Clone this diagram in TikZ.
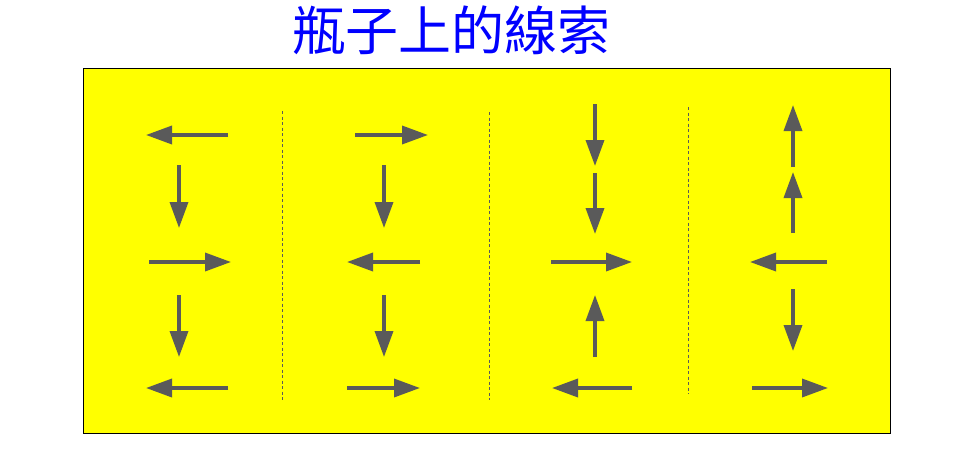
\documentclass[tikz,border=0pt]{standalone}
\usepackage{fontspec}
\newfontfamily\cjk{Noto Sans CJK TC}
\usetikzlibrary{arrows.meta}
\definecolor{arrowgray}{HTML}{5A5A5A}
\definecolor{titleblue}{HTML}{0000FF}
\definecolor{panelyellow}{HTML}{FFFF00}
\tikzset{
  cluearrow/.style={draw=arrowgray, line width=3.5pt, -{Triangle[length=26pt,width=18pt]}},
  divider/.style={draw=arrowgray, line width=1pt, dash pattern=on 3pt off 2.5pt},
  panel/.style={draw=black, line width=1pt, fill=panelyellow},
}
\newcommand{\clue}[5]{%
  \coordinate (#1-s) at (#2,#3);
  \coordinate (#1-e) at (#4,#5);
  \draw[cluearrow] (#1-s) -- (#1-e);
}
\begin{document}
\begin{tikzpicture}[x=1pt,y=-1pt]
\useasboundingbox (0,0) rectangle (958,453);
\node[panel, minimum width=807pt, minimum height=365pt, inner sep=0pt, anchor=north west] (box) at (83,67.5) {};
\node[text=titleblue, font=\cjk\fontsize{53}{60}\selectfont, inner sep=0pt] (title) at (451,30) {瓶子上的線索};
% dividers
\coordinate (d1t) at (282,111); \coordinate (d1b) at (282,400);
\coordinate (d2t) at (489,112); \coordinate (d2b) at (489,400);
\coordinate (d3t) at (688,107); \coordinate (d3b) at (688,394);
\draw[divider] (d1t) -- (d1b);
\draw[divider] (d2t) -- (d2b);
\draw[divider] (d3t) -- (d3b);
% column 1
\clue{a1}{228}{135}{146}{135}
\clue{a2}{179}{165}{179}{228}
\clue{a3}{149}{262}{231}{262}
\clue{a4}{179}{295}{179}{357}
\clue{a5}{228}{388}{146}{388}
% column 2
\clue{b1}{355}{135}{428}{135}
\clue{b2}{384}{165}{384}{228}
\clue{b3}{420}{262}{347}{262}
\clue{b4}{384}{295}{384}{357}
\clue{b5}{347}{388}{420}{388}
% column 3
\clue{c1}{595}{104}{595}{166}
\clue{c2}{595}{173}{595}{234}
\clue{c3}{551}{262}{632}{262}
\clue{c4}{595}{357}{595}{295}
\clue{c5}{632}{388}{552}{388}
% column 4
\clue{e1}{793}{167}{793}{105}
\clue{e2}{793}{233}{793}{172}
\clue{e3}{827}{262}{750}{262}
\clue{e4}{793}{289}{793}{351}
\clue{e5}{752}{388}{828}{388}
\end{tikzpicture}
\end{document}
